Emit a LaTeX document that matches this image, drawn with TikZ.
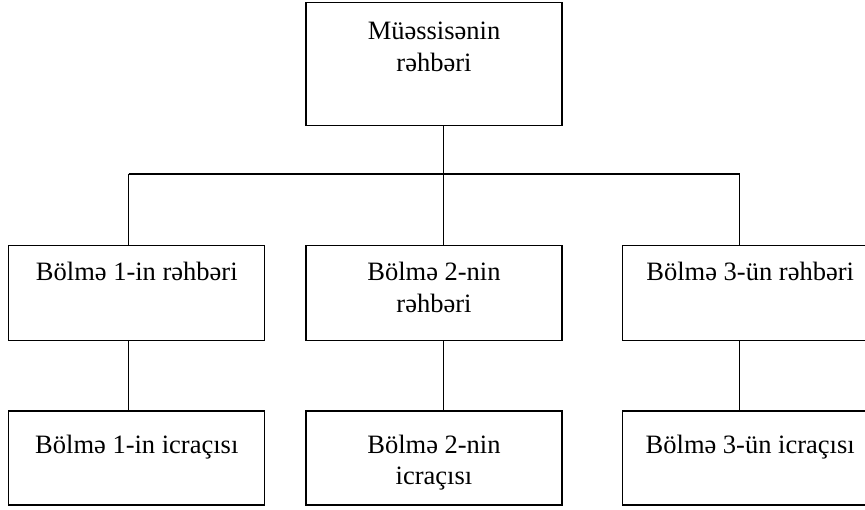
\documentclass[tikz,border=0pt]{standalone}
\usepackage{fontspec}
\setmainfont{Liberation Serif}
\usetikzlibrary{positioning}
\newcommand{\boxtext}[3]{\parbox[c][#1][t]{236pt}{\centering\rule{0pt}{#2}#3}}

\begin{document}
\begin{tikzpicture}[
      x=1pt, y=-1pt,
      unit/.style={draw, line width=1.2pt, inner sep=0pt, minimum width=256pt, font=\fontsize{26.5pt}{31.8pt}\selectfont},
      link/.style={line width=1.2pt},
      node distance=119pt and 40pt
    ]
      \clip (0,0) rectangle (865,510);
      \node[unit, anchor=north] (head) at (434,2) {\boxtext{123pt}{37pt}{Müəssisənin\\rəhbəri}};
      \node[unit, below=of head] (lead2) {\boxtext{95pt}{35pt}{Bölmə 2-nin\\rəhbəri}};
      \node[unit, left=of lead2] (lead1) {\boxtext{95pt}{35pt}{Bölmə 1-in rəhbəri}};
      \node[unit, right=59pt of lead2] (lead3) {\boxtext{95pt}{35pt}{Bölmə 3-ün rəhbəri}};
      \node[unit, below=69pt of lead1] (exec1) {\boxtext{94pt}{42pt}{Bölmə 1-in icraçısı}};
      \node[unit, below=69pt of lead2] (exec2) {\boxtext{94pt}{42pt}{Bölmə 2-nin\\icraçısı}};
      \node[unit, below=69pt of lead3] (exec3) {\boxtext{94pt}{42pt}{Bölmə 3-ün icraçısı}};

      % bus between the two levels
      \coordinate (bus1) at (128.5,174);
      \coordinate (bus2) at (443.5,174);
      \coordinate (bus3) at (739.5,174);

      \draw[link] (bus2 |- head.south) -- (bus2);
      \draw[link] (bus1) -- (bus3);
      \draw[link] (bus1) -- (bus1 |- lead1.north);
      \draw[link] (bus2) -- (bus2 |- lead2.north);
      \draw[link] (bus3) -- (bus3 |- lead3.north);
      \draw[link] (bus1 |- lead1.south) -- (bus1 |- exec1.north);
      \draw[link] (bus2 |- lead2.south) -- (bus2 |- exec2.north);
      \draw[link] (bus3 |- lead3.south) -- (bus3 |- exec3.north);
    \end{tikzpicture}
\end{document}
